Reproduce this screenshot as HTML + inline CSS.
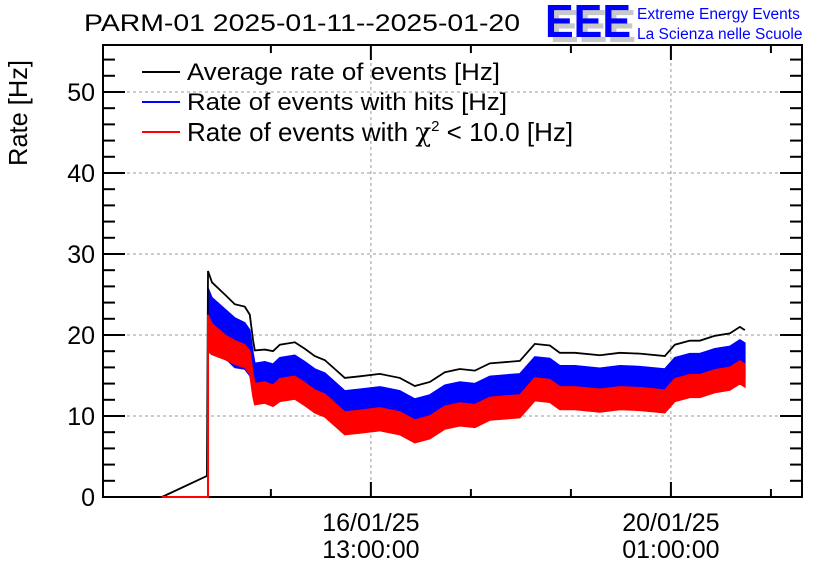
<!DOCTYPE html>
<html><head><meta charset="utf-8"><style>
body{margin:0;background:#fff;}
svg{display:block;font-family:"Liberation Sans",sans-serif;}
</style></head><body>
<svg id="chart" width="836" height="572">
<text x="84" y="31" font-size="24" textLength="436" lengthAdjust="spacingAndGlyphs">PARM-01 2025-01-11--2025-01-20</text>
<g>
<text x="550" y="42" font-size="46" fill="#c8c8c8" font-weight="bold" textLength="86" lengthAdjust="spacingAndGlyphs">EEE</text>
<text x="545" y="37" font-size="46" fill="#0000ff" font-weight="bold" textLength="86" lengthAdjust="spacingAndGlyphs">EEE</text>
<text x="637" y="19" font-size="15.5" fill="#0000ff">Extreme Energy Events</text>
<text x="637" y="39" font-size="15.5" fill="#0000ff">La Scienza nelle Scuole</text>
</g>
<text transform="translate(27,113) rotate(-90)" font-size="26" text-anchor="middle" textLength="106" lengthAdjust="spacingAndGlyphs">Rate [Hz]</text>
<g id="grid"></g><g id="series"></g><g id="axes"></g><g id="over"></g>
<g>
<line x1="142" y1="72" x2="180" y2="72" stroke="#000" stroke-width="2"/>
<text x="187" y="80" font-size="24" textLength="313" lengthAdjust="spacingAndGlyphs">Average rate of events [Hz]</text>
<line x1="142" y1="102" x2="180" y2="102" stroke="#0000ff" stroke-width="2"/>
<text x="187" y="110" font-size="24" textLength="320" lengthAdjust="spacingAndGlyphs">Rate of events with hits [Hz]</text>
<line x1="142" y1="132" x2="180" y2="132" stroke="#ff0000" stroke-width="2"/>
<text x="187" y="141" font-size="26">Rate of events with <tspan font-family="'DejaVu Serif',serif">χ</tspan><tspan font-size="15" dy="-10">2</tspan><tspan dy="10"> &lt; 10.0 [Hz]</tspan></text>
</g>
</svg>
<script>
// hours relative to 16/01/25 13:00:00
const times=[-58.5,-45.9,-45.6,-44.5,-40.9,-38.1,-35.3,-33.9,-33.0,-32.5,-29.7,-27.4,-25.5,-21.3,-18.5,-15.7,-12.9,-10.1,-7.3,-3.1,2.5,8.1,12.3,16.5,20.7,24.9,29.1,33.3,38.9,41.7,45.9,50.1,52.9,57.1,64.1,69.7,75.3,82.3,85.1,89.3,92.1,96.3,100.5,103.3,104.7];
const avgRate=[0,2.6,27.9,26.5,25,23.8,23.5,22.5,19.4,18.1,18.2,18,18.8,19.1,18.3,17.4,16.9,15.8,14.7,14.9,15.2,14.7,13.7,14.2,15.4,15.8,15.6,16.5,16.7,16.8,18.9,18.7,17.8,17.8,17.5,17.8,17.7,17.4,18.8,19.3,19.3,19.9,20.2,21,20.6];
const hitsHigh=[0,0,25.8,24.6,23.2,22.1,21.5,20.6,17.8,16.5,16.7,16.4,17.2,17.5,16.7,15.8,15.3,14.2,13.1,13.3,13.6,13.1,12.1,12.6,13.8,14.2,14.0,14.9,15.1,15.2,17.3,17.1,16.2,16.2,15.9,16.2,16.1,15.8,17.2,17.7,17.7,18.3,18.6,19.4,19.0];
const hitsLow=[0,0,19.5,18.5,17.2,16.0,15.8,15.0,13.6,12.3,12.4,12.2,13.0,13.3,12.5,11.6,11.1,10.0,8.9,9.1,9.4,8.9,7.9,8.4,9.6,10.0,9.8,10.7,10.9,11.0,13.1,12.9,12.0,12.0,11.7,12.0,11.9,11.6,13.0,13.5,13.5,14.1,14.4,15.2,14.8];
const chiHigh=[0,0,22.5,21.4,20.0,19.3,18.8,18.0,15.2,14.0,14.2,13.8,14.6,14.9,14.1,13.2,12.7,11.6,10.5,10.7,11.0,10.5,9.5,10.0,11.2,11.6,11.4,12.3,12.5,12.6,14.7,14.5,13.6,13.6,13.3,13.6,13.5,13.2,14.6,15.1,15.1,15.7,16.0,16.8,16.4];
const chiLow=[0,0,18.0,17.6,17.0,16.4,16.0,15.2,12.4,11.4,11.6,11.2,11.8,12.1,11.3,10.4,9.9,8.8,7.7,7.9,8.2,7.7,6.7,7.2,8.4,8.8,8.6,9.5,9.7,9.8,11.9,11.7,10.8,10.8,10.5,10.8,10.7,10.4,11.8,12.3,12.3,12.9,13.2,14.0,13.6];
const yTicks=[0,10,20,30,40,50];
const xTickHours=[-28,0,28,56,84,112];
const xMajorLabels=[["16/01/25","13:00:00"],["20/01/25","01:00:00"]];
const xMajorHours=[0,84];

const L=103,R=802,T=45,B=497;
const xMin=-75.0,xMax=120.7,yMin=0,yMax=55.8;
const X=h=>L+(h-xMin)/(xMax-xMin)*(R-L);
const Y=v=>B-(v-yMin)/(yMax-yMin)*(B-T);
const NS="http://www.w3.org/2000/svg";
function mk(tag,attrs,parent){const e=document.createElementNS(NS,tag);for(const k in attrs)e.setAttribute(k,attrs[k]);parent.appendChild(e);return e;}
const grid=document.getElementById('grid'),series=document.getElementById('series'),axes=document.getElementById('axes'),over=document.getElementById('over');

yTicks.forEach(v=>{if(v>0){const g=mk('line',{x1:L,x2:R,y1:Y(v),y2:Y(v),stroke:'#999','stroke-dasharray':'3,3'},grid);

}});
xMajorHours.forEach(h=>{const g=mk('line',{x1:X(h),x2:X(h),y1:T,y2:B,stroke:'#999','stroke-dasharray':'3,3'},grid);

});

function band(hi,lo,col,name){let pts=[];for(let i=2;i<times.length;i++)pts.push(X(times[i])+','+Y(hi[i]));for(let i=times.length-1;i>=2;i--)pts.push(X(times[i])+','+Y(lo[i]));
const p=mk('polygon',{points:pts.join(' '),fill:col,stroke:col,'stroke-width':1.5},series);

}
band(hitsHigh,hitsLow,'#0000ff','hits-rate-series');
band(chiHigh,chiLow,'#ff0000','chi2-rate-series');
const bl=mk('polyline',{points:times.map((t,i)=>X(t)+','+Y(avgRate[i])).join(' '),fill:'none',stroke:'#000','stroke-width':1.8},series);



const fr=mk('rect',{x:L,y:T,width:R-L,height:B-T,fill:'none',stroke:'#000','stroke-width':2},axes);


for(let v=0;v<=54;v+=2){const maj=v%10===0,len=maj?22:12;
mk('line',{x1:L,x2:L+len,y1:Y(v),y2:Y(v),stroke:'#000','stroke-width':2},axes);
mk('line',{x1:R,x2:R-len,y1:Y(v),y2:Y(v),stroke:'#000','stroke-width':2},axes);}
yTicks.forEach(v=>{const t=mk('text',{x:L-8,y:Y(v)+9,'font-size':25,'text-anchor':'end'},axes);t.textContent=v;

});
xTickHours.forEach(h=>{const maj=xMajorHours.includes(h),len=maj?15:8;const x=X(h);if(x<L||x>R)return;
mk('line',{x1:x,x2:x,y1:B,y2:B-len,stroke:'#000','stroke-width':2},axes);
mk('line',{x1:x,x2:x,y1:T,y2:T+len,stroke:'#000','stroke-width':2},axes);});
xMajorHours.forEach((h,i)=>{[0,1].forEach(j=>{const t=mk('text',{x:X(h),y:531+j*27,'font-size':25,'text-anchor':'middle'},axes);t.textContent=xMajorLabels[i][j];

});});
// red baseline drawn over the frame
const rl=mk('polyline',{points:[X(times[0])+','+Y(0),X(times[2])+','+Y(0),X(times[2])+','+Y(chiHigh[2])].join(' '),fill:'none',stroke:'#ff0000','stroke-width':2},over);


</script>
</body></html>
